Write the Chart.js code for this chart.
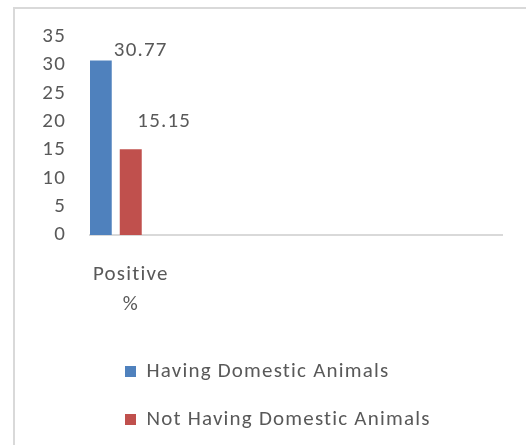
<!DOCTYPE html>
<html>
<head>
<meta charset="utf-8">
<script src="https://cdn.jsdelivr.net/npm/chart.js@4"></script>
<style>
  html, body { margin: 0; padding: 0; background: #fff; }
  #wrap { position: relative; width: 526px; height: 445px; overflow: hidden; }
  #frame {
    position: absolute; left: 13px; top: 7px; right: -10px; bottom: -10px;
    border-top: 2px solid #d9d9d9; border-left: 2px solid #d9d9d9;
  }
  canvas { position: absolute; left: 0; top: 0; }
</style>
</head>
<body>
<div id="wrap">
  <div id="frame"></div>
  <canvas id="chart" width="526" height="445"></canvas>
</div>
<script>
// category labels (only the first one carries text)
const categories = [["Positive", "%"], "", "", "", "", "", "", ""];
const seriesNames = ["Having Domestic Animals", "Not Having Domestic Animals"];
const havingAnimals = [30.77];
const notHavingAnimals = [15.15];
const yTicks = [0, 5, 10, 15, 20, 25, 30, 35];

const textColor = "#595959";
const fontFamily = "Carlito, Calibri, Lato, sans-serif";
const fontSize = 21;
const spacing = "1.2px";

// Excel draws Calibri with a little extra letter spacing
const letterSpacing = {
  id: "letterSpacing",
  beforeUpdate(chart) { chart.ctx.letterSpacing = spacing; },
  beforeDraw(chart) { chart.ctx.letterSpacing = spacing; }
};

// Value labels next to the top of each bar, offset like the Excel original
const valueLabels = {
  id: "valueLabels",
  afterDatasetsDraw(chart, args, opts) {
    const ctx = chart.ctx;
    ctx.save();
    ctx.font = fontSize + "px " + fontFamily;
    ctx.fillStyle = textColor;
    ctx.textAlign = "center";
    ctx.textBaseline = "middle";
    chart.data.datasets.forEach((ds, i) => {
      const meta = chart.getDatasetMeta(i);
      const off = opts.offsets[i];
      meta.data.forEach((bar, j) => {
        const v = ds.data[j];
        if (v == null) return;
        ctx.fillText(v.toFixed(2), bar.x + off[0], bar.y + off[1]);
      });
    });
    ctx.restore();
  }
};

// Push the legend block to the right so its rows line up under the chart
const legendShift = {
  id: "legendShift",
  afterLayout(chart, args, opts) {
    chart.legend.left += opts.dx;
    chart.legend.right += opts.dx;
  }
};

const ctx = document.getElementById("chart").getContext("2d");
new Chart(ctx, {
  type: "bar",
  data: {
    labels: categories,
    datasets: [
      { label: seriesNames[0], data: havingAnimals, backgroundColor: "#4f81bd" },
      { label: seriesNames[1], data: notHavingAnimals, backgroundColor: "#c0504d" }
    ]
  },
  options: {
    responsive: false,
    animation: false,
    categoryPercentage: 1.165,
    barPercentage: 0.733,
    layout: { padding: { top: 36, right: 24, bottom: 5, left: 14 } },
    plugins: {
      tooltip: { enabled: false },
      legend: {
        position: "bottom",
        align: "start",
        labels: {
          color: textColor,
          font: { family: fontFamily, size: fontSize },
          boxWidth: 11,
          boxHeight: 11,
          padding: 27
        }
      },
      valueLabels: { offsets: [[40, -10], [33.5, -27]] },
      legendShift: { dx: 84 }
    },
    scales: {
      x: {
        grid: { display: false, drawTicks: false },
        border: { display: true, color: "#d9d9d9", width: 2 },
        ticks: {
          color: textColor,
          font: { family: fontFamily, size: fontSize, lineHeight: 1.45 },
          padding: 24,
          labelOffset: 15,
          maxRotation: 0,
          autoSkip: false
        },
        afterFit(scale) { scale.height -= 10; }
      },
      y: {
        min: 0,
        max: 35,
        grid: { display: false, drawTicks: false },
        border: { display: false },
        afterBuildTicks(scale) { scale.ticks = yTicks.map(v => ({ value: v })); },
        ticks: {
          color: textColor,
          font: { family: fontFamily, size: fontSize },
          padding: 24,
          autoSkip: false
        },
        afterFit(scale) { scale.width = 76; }
      }
    }
  },
  plugins: [letterSpacing, valueLabels, legendShift]
});
</script>
</body>
</html>
